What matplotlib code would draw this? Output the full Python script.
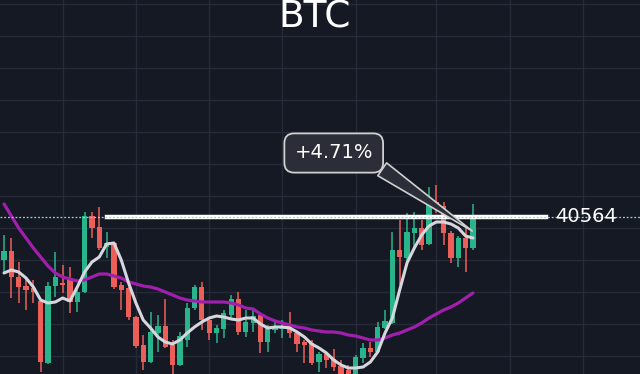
import numpy as np
import matplotlib.pyplot as plt

# BTC candles (price units)
opens = [39704, 39884, 39364, 39184, 39144, 38884, 37644, 39184, 39244, 39324,
         38864, 39064, 40584, 40364, 39964, 40044, 39204, 39144, 38564, 38004,
         37664, 38244, 38384, 38004, 37604, 38104, 38744, 39164, 38504, 38244,
         38324, 38604, 38924, 38264, 38444, 38604, 38064, 38304, 38324, 38404,
         38244, 38064, 38044, 37664, 37824, 37724, 37584, 37504, 37304, 37744,
         37944, 37864, 38344, 38444, 39904, 39744, 40244, 40344, 40024, 40864,
         40784, 40244, 39744, 40144, 39944]
highs = [40204, 40144, 39664, 39344, 39304, 38904, 39264, 39864, 39604, 39564,
         39124, 40664, 40664, 40764, 40264, 40064, 39264, 39164, 38584, 38204,
         38664, 38604, 38924, 38104, 38264, 38844, 39204, 39264, 38564, 38404,
         38704, 39004, 39064, 38704, 38744, 38644, 38404, 38504, 38504, 38664,
         38264, 38104, 38104, 37864, 37864, 37924, 37704, 37604, 37804, 38044,
         38064, 38464, 38704, 40264, 40504, 40644, 40664, 40504, 41164, 41204,
         40864, 40284, 40184, 40364, 40824]
lows = [39464, 38944, 38844, 38704, 38844, 37464, 37624, 38964, 39044, 38644,
        38664, 39044, 40144, 39904, 39744, 39124, 38704, 38504, 37944, 37504,
        37644, 37864, 37944, 37384, 37584, 37964, 38704, 38304, 38104, 38044,
        38144, 38504, 38204, 38164, 38264, 37844, 37864, 38244, 38144, 38144,
        37864, 37644, 37604, 37464, 37544, 37484, 37304, 37204, 37264, 37644,
        37764, 37844, 38324, 38424, 39204, 39644, 39904, 39904, 40004, 40644,
        40004, 39644, 39564, 39464, 39904]
closes = [39884, 39364, 39164, 39104, 39064, 37664, 39184, 39364, 39204, 38864,
          39064, 40584, 40344, 39944, 40044, 39164, 39104, 38564, 37984, 37664,
          38264, 38384, 37964, 37604, 38184, 38744, 39164, 38504, 38244, 38344,
          38644, 38924, 38264, 38464, 38584, 38064, 38344, 38364, 38364, 38244,
          38024, 38004, 37644, 37824, 37704, 37564, 37344, 37264, 37764, 37944,
          37864, 38364, 38484, 39904, 39764, 40264, 40344, 40004, 40864, 40764,
          40244, 39744, 40144, 39944, 40564]

# moving averages
ma_fast = [39444, 39504, 39464, 39344, 39164, 38904, 38844, 38864, 38944, 38884,
           39164, 39464, 39664, 39764, 40024, 40044, 39704, 39244, 38844, 38504,
           38344, 38164, 38064, 38024, 38104, 38244, 38364, 38464, 38544, 38584,
           38564, 38524, 38504, 38544, 38544, 38424, 38344, 38364, 38364, 38344,
           38264, 38164, 38024, 37944, 37844, 37704, 37604, 37544, 37544, 37564,
           37664, 37864, 38244, 38544, 39104, 39644, 39944, 40204, 40384, 40464,
           40464, 40424, 40344, 40184, 40144]
ma_slow = [40824, 40584, 40344, 40144, 39944, 39764, 39584, 39444, 39364, 39324,
           39284, 39304, 39364, 39424, 39424, 39384, 39344, 39264, 39224, 39184,
           39164, 39124, 39064, 39004, 38944, 38904, 38884, 38864, 38864, 38864,
           38864, 38844, 38804, 38744, 38724, 38624, 38544, 38484, 38444, 38404,
           38364, 38344, 38304, 38284, 38264, 38264, 38244, 38204, 38184, 38144,
           38104, 38104, 38144, 38204, 38244, 38304, 38364, 38444, 38544, 38624,
           38704, 38764, 38844, 38944, 39044]

level = 40564
level_start, level_end = 14, 74
change_label = '+4.71%'
title = 'BTC'

BG = '#151924'
GRID = '#262a38'
UP = '#29b48c'
DOWN = '#ec5f59'
BOX = '#2b2e38'
EDGE = '#d0d0d0'

fig = plt.figure(figsize=(6.4, 3.74), dpi=100, facecolor=BG)
ax = fig.add_axes([0, 0, 1, 1])
ax.set_facecolor(BG)

x = np.arange(len(opens))
o = np.array(opens)
c = np.array(closes)
up = c >= o
colors = np.where(up, UP, DOWN)

# wicks then bodies
ax.vlines(x, lows, highs, colors=colors, lw=1.1, zorder=2)
body_lo = np.minimum(o, c)
body_h = np.maximum(np.abs(c - o), 40)
ax.bar(x, body_h, bottom=body_lo, width=0.72, color=colors, zorder=3)

ax.plot(x, ma_slow, color='#a21fae', lw=2.3, zorder=4, solid_capstyle='round')
ax.plot(x, ma_fast, color='#d6d6de', lw=2.2, zorder=4, solid_capstyle='round')

# horizontal level
ax.plot([level_start, level_end], [level, level], color='white', lw=3.2, zorder=5)
ax.axhline(level, color='#8fd6d6', lw=0.9, ls=(0, (1.5, 1.5)), zorder=5)
ax.text(level_end + 1.2, level, str(level), color='white', fontsize=14,
        va='center', ha='left', zorder=6)

# change callout pointing at the last candle
ax.annotate(change_label, xy=(x[-1] - 0.1, 40284), xytext=(45.0, 41844),
            ha='center', va='center', fontsize=14, color='white', zorder=7,
            bbox=dict(boxstyle='round,pad=0.52,rounding_size=0.5',
                      fc=BOX, ec=EDGE, lw=1.3),
            arrowprops=dict(arrowstyle='wedge,tail_width=0.8,shrink_factor=0.5',
                            fc=BOX, ec=EDGE, lw=1.2,
                            relpos=(0.97, 0.06), shrinkA=0, shrinkB=0))

ax.set_xlim(-0.55, 86.8)
ax.set_ylim(37424, 44904)
ax.set_xticks([8, 18, 28, 38, 48, 59, 69, 79])
ax.set_yticks(np.arange(37784, 45000, 640))
ax.grid(True, color=GRID, lw=1)
ax.set_axisbelow(True)
ax.tick_params(length=0, labelbottom=False, labelleft=False)
for s in ax.spines.values():
    s.set_visible(False)

fig.text(0.492, 1 - 27 / 374, title, color='white', fontsize=27,
         ha='center', va='baseline')

fig.savefig('out.png', dpi=100, facecolor=BG)
